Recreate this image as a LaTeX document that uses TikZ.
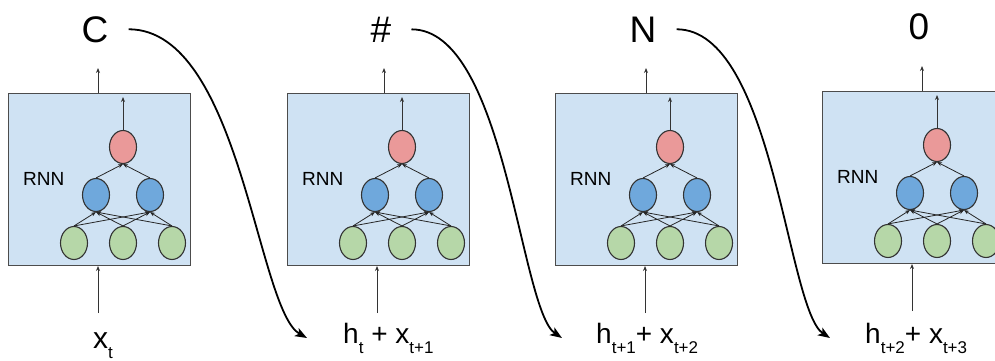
\documentclass[tikz,border=0pt]{standalone}
\usepackage{fontspec}
\setmainfont{Liberation Sans}
\usetikzlibrary{arrows.meta,positioning,shapes.geometric}
\definecolor{cellblue}{HTML}{CFE2F3}
\definecolor{outred}{HTML}{EA9999}
\definecolor{hidblue}{HTML}{6FA8DC}
\definecolor{ingreen}{HTML}{B6D7A8}
\newcommand{\lowidx}[1]{\raisebox{-10pt}{\fontsize{17}{17}\selectfont #1}}

\begin{document}
\begin{tikzpicture}[
    x=1pt, y=-1pt,
    cell/.style={rectangle, draw=black!70, line width=1pt, fill=cellblue, minimum width=182pt, minimum height=172pt, anchor=north west, inner sep=0},
    unit/.style={ellipse, draw=black!80, line width=1.1pt, minimum width=27pt, minimum height=33pt, inner sep=0},
    conn/.style={-{Stealth[length=5pt,width=4pt]}, line width=0.8pt, black!85},
    wire/.style={-{Stealth[length=5pt,width=4pt]}, line width=1pt, black!80},
    sweep/.style={-{Stealth[length=12pt,width=9pt,inset=3pt]}, line width=1.8pt},
    outlabel/.style={font=\fontsize{37}{37}\selectfont, inner sep=0, anchor=base},
    inlabel/.style={font=\fontsize{28}{28}\selectfont, inner sep=0, anchor=base west}
]
\useasboundingbox (0,0) rectangle (995,361);

% one RNN cell per time step
\foreach \i/\bx/\by/\ox/\sym in {1/8/93/90/C, 2/287/93/97/\#, 3/555/93/91/N, 4/822/91/100/0} {
  \begin{scope}[shift={(\bx,\by)}]
    \node[cell] (cell\i) at (0,0) {};
    \node[anchor=base west, font=\fontsize{19}{19}\selectfont, inner sep=0] (rnn\i) at (15,92) {RNN};

    \node[unit, fill=outred] (out\i) at (115,54) {};
    \node[unit, fill=hidblue] (hida\i) at (88,102) {};
    \node[unit, fill=hidblue] (hidb\i) at (142,102) {};
    \node[unit, fill=ingreen] (ina\i) at (66,150) {};
    \node[unit, fill=ingreen] (inb\i) at (115,150) {};
    \node[unit, fill=ingreen] (inc\i) at (164,150) {};

    \foreach \g in {ina,inb,inc}
      \foreach \h in {hida,hidb}
        \draw[conn] (\g\i.north) -- (\h\i.south);
    \foreach \h in {hida,hidb}
      \draw[conn] (\h\i.north) -- (out\i.south);
    \draw[wire, shorten >=4pt] (out\i.north) -- (out\i.north |- cell\i.north);

    \node[outlabel, xshift=-3pt] (sym\i) at (\ox,-51) {\sym};
    \coordinate (top\i) at (\ox,-25);
    \draw[wire] (cell\i.north -| top\i) -- (top\i);

    \coordinate (feed\i) at (90,220);
    \draw[wire] (feed\i) -- (feed\i |- cell\i.south);
  \end{scope}
}

\node[inlabel, font=\fontsize{30}{30}\selectfont] (in1) at (93,348) {x\lowidx{t}};
\node[inlabel] (in2) at (343,343) {h\lowidx{t} + x\lowidx{t+1}};
\node[inlabel] (in3) at (596,343) {h\lowidx{t+1}+ x\lowidx{t+2}};
\node[inlabel] (in4) at (865,343) {h\lowidx{t+2}+ x\lowidx{t+3}};

% hidden state handed to the next step
\draw[sweep] ([xshift=20pt]sym1.east) .. controls +(112,0) and +(-50,-28) .. ([shift={(-36,-5)}]in2.base west);
\draw[sweep] ([xshift=20pt]sym2.east) .. controls +(94,0) and +(-42,-28) .. ([shift={(-34,-5)}]in3.base west);
\draw[sweep] ([xshift=20pt]sym3.east) .. controls +(97,0) and +(-43,-28) .. ([shift={(-35,-5)}]in4.base west);
\end{tikzpicture}
\end{document}
